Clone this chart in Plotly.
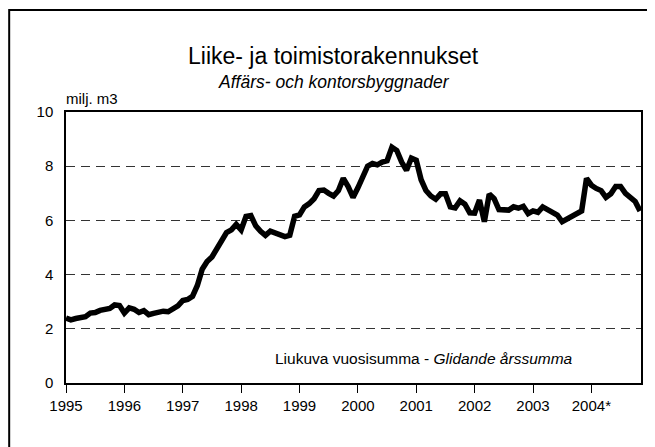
import plotly.graph_objects as go

start_year = 1995
values = [
    2.40, 2.33, 2.38, 2.42, 2.45, 2.58, 2.60, 2.68, 2.73, 2.75, 2.88, 2.86,
    2.58, 2.77, 2.72, 2.60, 2.67, 2.52, 2.57, 2.62, 2.65, 2.63, 2.72, 2.85,
    3.04, 3.08, 3.20, 3.60, 4.20, 4.48, 4.65, 4.95, 5.30, 5.55, 5.65, 5.85,
    5.65, 6.15, 6.18, 5.80, 5.60, 5.45, 5.60, 5.52, 5.45, 5.40, 5.45, 6.15,
    6.20, 6.50, 6.62, 6.80, 7.10, 7.12, 7.00, 6.90, 7.10, 7.55, 7.25, 6.85,
    7.20, 7.65, 8.00, 8.10, 8.05, 8.15, 8.20, 8.70, 8.58, 8.15, 7.85, 8.30,
    8.22, 7.50, 7.10, 6.90, 6.78, 6.98, 6.98, 6.50, 6.46, 6.72, 6.60, 6.28,
    6.27, 6.75, 5.95, 6.97, 6.80, 6.40, 6.38, 6.38, 6.50, 6.45, 6.52, 6.25,
    6.35, 6.30, 6.50, 6.40, 6.33, 6.20, 5.95, 6.05, 6.15, 6.22, 6.35, 7.55,
    7.30, 7.18, 7.10, 6.85, 6.98, 7.25, 7.25, 7.00, 6.82, 6.70, 6.35,
]
x_dates = [start_year + i / 12 for i in range(len(values))]

tick_years = [1995, 1996, 1997, 1998, 1999, 2000, 2001, 2002, 2003, 2004]
tick_labels = ["1995", "1996", "1997", "1998", "1999", "2000", "2001", "2002", "2003", "2004*"]
y_ticks = [0, 2, 4, 6, 8, 10]

FONT = "Liberation Sans, Arial, sans-serif"

fig = go.Figure()
fig.add_trace(go.Scatter(x=x_dates, y=values, mode="lines",
                         line=dict(color="black", width=5.5), hoverinfo="skip"))

fig.update_layout(
    width=647, height=439,
    margin=dict(l=58, r=12, t=104, b=64),
    paper_bgcolor="white", plot_bgcolor="white",
    showlegend=False,
    font=dict(family=FONT, color="black", size=15),
    xaxis=dict(range=[1995, 2004.85], tickvals=tick_years, ticktext=tick_labels,
               showgrid=False, zeroline=False, showline=True, linecolor="black",
               linewidth=1.5, mirror=True, ticks="outside", ticklen=8,
               tickcolor="black", tickwidth=1, tickfont=dict(size=15, family=FONT)),
    yaxis=dict(range=[0, 10], tickvals=y_ticks, showgrid=True,
               gridcolor="#333333", griddash="9px,6px", gridwidth=1,
               zeroline=False, showline=True, linecolor="black", linewidth=1.5,
               mirror=True, ticks="outside", ticklen=8, tickcolor="rgba(0,0,0,0)",
               tickfont=dict(size=15, family=FONT)),
    shapes=[dict(type="rect", xref="paper", yref="paper",
                 x0=-0.0988, x1=1.0156, y0=-0.26, y1=1.376,
                 line=dict(color="black", width=2), layer="below")],
    annotations=[
        dict(text="Liike- ja toimistorakennukset", xref="paper", yref="paper",
             x=0.466, y=1.207, xanchor="center", yanchor="middle", showarrow=False,
             font=dict(size=23, family=FONT)),
        dict(text="<i>Affärs- och kontorsbyggnader</i>", xref="paper", yref="paper",
             x=0.466, y=1.111, xanchor="center", yanchor="middle", showarrow=False,
             font=dict(size=17.5, family=FONT)),
        dict(text="milj. m3", xref="paper", yref="paper",
             x=-0.0035, y=1.048, xanchor="left", yanchor="middle", showarrow=False,
             font=dict(size=15, family=FONT)),
        dict(text="Liukuva vuosisumma - <i>Glidande årssumma</i>", xref="paper", yref="paper",
             x=0.622, y=0.092, xanchor="center", yanchor="middle", showarrow=False,
             font=dict(size=15.5, family=FONT)),
    ],
)

fig.write_html("out.html")
